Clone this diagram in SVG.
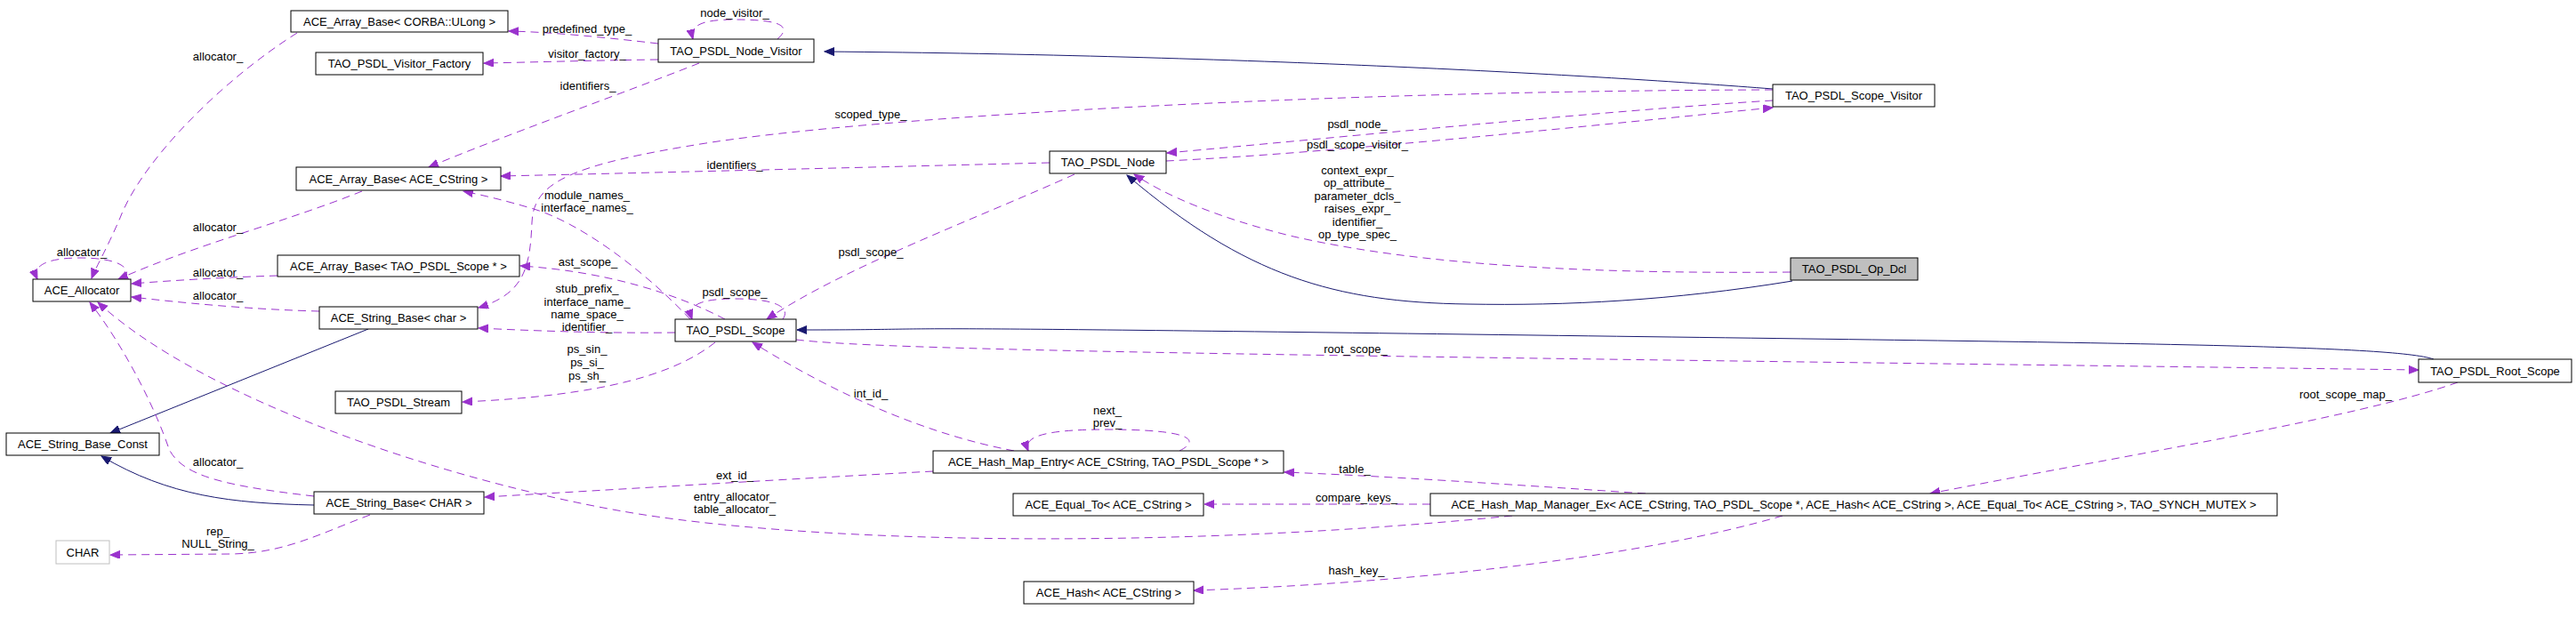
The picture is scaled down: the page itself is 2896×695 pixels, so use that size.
<svg xmlns="http://www.w3.org/2000/svg" width="2896" height="695" viewBox="0 0 2896 695">
<style>
text{font-family:"Liberation Sans",Arial,Helvetica,sans-serif;font-size:13px;fill:#000;text-anchor:middle}
.box{fill:#fff;stroke:#000;stroke-width:1}
.cur{fill:#bfbfbf;stroke:#000;stroke-width:1}
.ext{fill:#fff;stroke:#bfbfbf;stroke-width:1}
.inh{fill:none;stroke:#191970;stroke-width:1;marker-end:url(#an)}
.use{fill:none;stroke:#9a32cd;stroke-width:1;stroke-dasharray:9,6;marker-end:url(#ap)}
</style>
<defs>
<marker id="an" markerWidth="12" markerHeight="10" refX="11" refY="4.5" orient="auto" markerUnits="userSpaceOnUse"><path d="M0,0 L11,4.5 L0,9 z" fill="#191970" stroke="#191970"/></marker>
<marker id="ap" markerWidth="12" markerHeight="10" refX="11" refY="4.5" orient="auto" markerUnits="userSpaceOnUse"><path d="M0,0 L11,4.5 L0,9 z" fill="#9a32cd" stroke="#9a32cd"/></marker>
</defs>
<rect width="2896" height="695" fill="#fff"/>
<g id="connectors">
<path class="inh" d="M1993,100 C1800,85 1400,62 927,58"/>
<path class="inh" d="M2015,316 C1880,338 1760,344 1650,342 C1500,340 1400,310 1267,197"/>
<path class="inh" d="M2736,404 C2690,388 2400,386 1650,376 S1100,371 896,371"/>
<path class="inh" d="M414,370 L124,487"/>
<path class="inh" d="M353,568 C260,566 190,558 114,513"/>
<path class="use" d="M334,37 C250,90 160,180 135,245 C120,280 108,300 103,313"/>
<path class="use" d="M407,215 C320,250 220,275 133,314"/>
<path class="use" d="M312,310 C250,312 200,315 148,319"/>
<path class="use" d="M359,350 C280,348 200,340 148,334"/>
<path class="use" d="M353,558 C250,546 205,535 190,505 C175,460 140,390 101,340"/>
<path class="use" d="M1700,580 C1300,620 900,610 700,575 C500,540 230,450 110,340"/>
<path class="use" d="M140,314 C150,300 130,290 90,290 C55,290 35,298 42,314"/>
<path class="use" d="M740,49 C680,42 620,36 572,35"/>
<path class="use" d="M740,67 C660,68 600,70 544,71"/>
<path class="use" d="M874,44 C890,30 880,22 826,22 C790,22 775,28 779,44"/>
<path class="use" d="M786,71 C700,105 560,155 482,188"/>
<path class="use" d="M1180,183 C900,190 700,195 563,198"/>
<path class="use" d="M776,359 C720,300 650,250 600,235 C570,226 545,220 521,215"/>
<path class="use" d="M1993,101 C1500,102 1000,130 800,160 C640,185 600,205 598,250 C596,300 590,330 538,346"/>
<path class="use" d="M815,359 C760,330 680,305 585,299"/>
<path class="use" d="M759,374 C680,375 600,372 538,369"/>
<path class="use" d="M804,385 C760,420 680,445 520,452"/>
<path class="use" d="M880,359 C890,345 870,336 826,336 C790,336 772,342 778,359"/>
<path class="use" d="M1208,196 C1100,245 950,300 862,359"/>
<path class="use" d="M1993,113 C1800,125 1500,155 1312,172"/>
<path class="use" d="M1311,181 C1500,172 1800,140 1993,121"/>
<path class="use" d="M2013,306 C1800,308 1600,300 1450,265 C1370,245 1310,220 1275,196"/>
<path class="use" d="M895,382 C1000,395 1500,400 2719,416"/>
<path class="use" d="M2763,430 C2650,470 2400,510 2170,555"/>
<path class="use" d="M1140,507 C1050,490 950,450 846,385"/>
<path class="use" d="M1326,507 C1350,495 1340,483 1244,483 C1170,483 1150,492 1156,507"/>
<path class="use" d="M1049,530 C900,538 700,550 545,559"/>
<path class="use" d="M1850,555 C1700,545 1550,535 1444,531"/>
<path class="use" d="M1608,567 L1354,567"/>
<path class="use" d="M2004,580 C1850,625 1600,655 1342,664"/>
<path class="use" d="M416,579 C360,600 320,622 260,623 L124,624"/>
<text x="245" y="67.5">allocator_</text>
<text x="245" y="259.5">allocator_</text>
<text x="245" y="310.5">allocator_</text>
<text x="245" y="336.5">allocator_</text>
<text x="245" y="523.5">allocator_</text>
<text x="92" y="287.5">allocator_</text>
<text x="826" y="562.5">entry_allocator_</text>
<text x="826" y="576.5">table_allocator_</text>
<text x="660" y="36.5">predefined_type_</text>
<text x="660" y="64.5">visitor_factory_</text>
<text x="826" y="18.5">node_visitor_</text>
<text x="661" y="100.5">identifiers_</text>
<text x="826" y="189.5">identifiers_</text>
<text x="660" y="223.5">module_names_</text>
<text x="660" y="237.5">interface_names_</text>
<text x="979" y="132.5">scoped_type_</text>
<text x="661" y="298.5">ast_scope_</text>
<text x="660" y="328.5">stub_prefix_</text>
<text x="660" y="343.5">interface_name_</text>
<text x="660" y="358">name_space_</text>
<text x="660" y="371.5">identifier_</text>
<text x="660" y="396.5">ps_sin_</text>
<text x="660" y="411.5">ps_si_</text>
<text x="660" y="426.5">ps_sh_</text>
<text x="826" y="332.5">psdl_scope_</text>
<text x="979" y="287.5">psdl_scope_</text>
<text x="1526" y="143.5">psdl_node_</text>
<text x="1526" y="166.5">psdl_scope_visitor_</text>
<text x="1526" y="195.5">context_expr_</text>
<text x="1526" y="210">op_attribute_</text>
<text x="1526" y="224.5">parameter_dcls_</text>
<text x="1526" y="239">raises_expr_</text>
<text x="1526" y="253.5">identifier_</text>
<text x="1526" y="268">op_type_spec_</text>
<text x="1524" y="396.5">root_scope_</text>
<text x="2637" y="447.5">root_scope_map_</text>
<text x="979" y="446.5">int_id_</text>
<text x="1245" y="466">next_</text>
<text x="1245" y="480">prev_</text>
<text x="826" y="538.5">ext_id_</text>
<text x="1523" y="531.5">table_</text>
<text x="1525" y="563.5">compare_keys_</text>
<text x="1525" y="646">hash_key_</text>
<text x="245" y="601.5">rep_</text>
<text x="245" y="615.5">NULL_String_</text>
</g>
<g id="n1"><rect class="box" x="327" y="12" width="244" height="24"/><text x="449" y="28.5">ACE_Array_Base&lt; CORBA::ULong &gt;</text></g>
<g id="n2"><rect class="box" x="355" y="59" width="188" height="25"/><text x="449" y="76">TAO_PSDL_Visitor_Factory</text></g>
<g id="n3"><rect class="box" x="740" y="44" width="175" height="26"/><text x="827.5" y="61.5">TAO_PSDL_Node_Visitor</text></g>
<g id="n4"><rect class="box" x="333" y="188" width="230" height="26"/><text x="448" y="205.5">ACE_Array_Base&lt; ACE_CString &gt;</text></g>
<g id="n5"><rect class="box" x="37" y="314" width="110" height="25"/><text x="92" y="331">ACE_Allocator</text></g>
<g id="n6"><rect class="box" x="312" y="287" width="272" height="24"/><text x="448" y="303.5">ACE_Array_Base&lt; TAO_PSDL_Scope * &gt;</text></g>
<g id="n7"><rect class="box" x="359" y="345" width="178" height="25"/><text x="448" y="362">ACE_String_Base&lt; char &gt;</text></g>
<g id="n8"><rect class="box" x="377" y="440" width="142" height="25"/><text x="448" y="457">TAO_PSDL_Stream</text></g>
<g id="n9"><rect class="box" x="7" y="487" width="172" height="25"/><text x="93" y="504">ACE_String_Base_Const</text></g>
<g id="n10"><rect class="box" x="353" y="553" width="191" height="25"/><text x="448.5" y="570">ACE_String_Base&lt; CHAR &gt;</text></g>
<g id="n11"><rect class="ext" x="63" y="608" width="60" height="26"/><text x="93" y="625.5">CHAR</text></g>
<g id="n12"><rect class="box" x="759" y="359" width="136" height="25"/><text x="827" y="376">TAO_PSDL_Scope</text></g>
<g id="n13"><rect class="box" x="1180" y="170" width="131" height="25"/><text x="1245.5" y="187">TAO_PSDL_Node</text></g>
<g id="n14"><rect class="box" x="1993" y="95" width="182" height="25"/><text x="2084" y="112">TAO_PSDL_Scope_Visitor</text></g>
<g id="n15"><rect class="cur" x="2013" y="290" width="143" height="25"/><text x="2084.5" y="307">TAO_PSDL_Op_Dcl</text></g>
<g id="n16"><rect class="box" x="2719" y="404" width="172" height="26"/><text x="2805" y="421.5">TAO_PSDL_Root_Scope</text></g>
<g id="n17"><rect class="box" x="1049" y="507" width="394" height="25"/><text x="1246" y="524">ACE_Hash_Map_Entry&lt; ACE_CString, TAO_PSDL_Scope * &gt;</text></g>
<g id="n18"><rect class="box" x="1139" y="555" width="214" height="25"/><text x="1246" y="572">ACE_Equal_To&lt; ACE_CString &gt;</text></g>
<g id="n19"><rect class="box" x="1608" y="555" width="952" height="25"/><text x="2084" y="572">ACE_Hash_Map_Manager_Ex&lt; ACE_CString, TAO_PSDL_Scope *, ACE_Hash&lt; ACE_CString &gt;, ACE_Equal_To&lt; ACE_CString &gt;, TAO_SYNCH_MUTEX &gt;</text></g>
<g id="n20"><rect class="box" x="1151" y="654" width="191" height="25"/><text x="1246.5" y="671">ACE_Hash&lt; ACE_CString &gt;</text></g>
</svg>
